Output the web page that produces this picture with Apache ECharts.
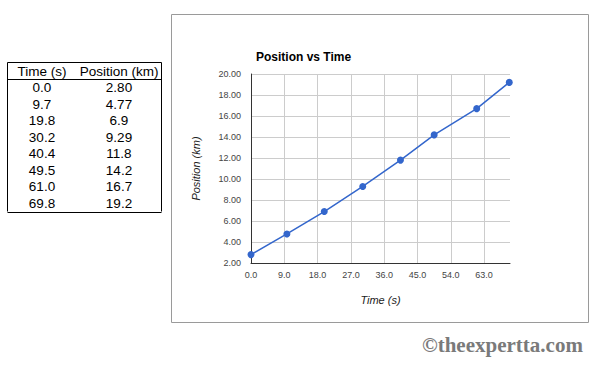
<!DOCTYPE html>
<html>
<head>
<meta charset="utf-8">
<script src="https://cdn.jsdelivr.net/npm/echarts@6/dist/echarts.min.js"></script>
<style>
html,body{margin:0;padding:0;background:#fff;}
#chart{width:600px;height:372px;}
</style>
</head>
<body>
<div id="chart"></div>
<script>
// ---- data ----
const timeText = ['0.0', '9.7', '19.8', '30.2', '40.4', '49.5', '61.0', '69.8'];
const positionText = ['2.80', '4.77', '6.9', '9.29', '11.8', '14.2', '16.7', '19.2'];
const times = [0.0, 9.7, 19.8, 30.2, 40.4, 49.5, 61.0, 69.8];
const positions = [2.80, 4.77, 6.9, 9.29, 11.8, 14.2, 16.7, 19.2];
const tableHeaders = ['Time (s)', 'Position (km)'];
const chartTitle = 'Position vs Time';
const xName = 'Time (s)';
const yName = 'Position (km)';
const watermark = '\u00A9theexpertta.com';

const FONT = '"Liberation Sans", Arial, sans-serif';

// ---- table as graphic elements ----
const tbl = { left: 7.5, right: 161.5, top: 62.5, headBottom: 79.5, rowH: 16.5, col1: 42, col2: 119 };
const graphics = [];
const tblBottom = tbl.headBottom + tbl.rowH * timeText.length;
function hline(y) {
  graphics.push({ type: 'line', shape: { x1: tbl.left, y1: y, x2: tbl.right, y2: y }, style: { stroke: '#000', lineWidth: 1 } });
}
function vline(x) {
  graphics.push({ type: 'line', shape: { x1: x, y1: tbl.top, x2: x, y2: tblBottom }, style: { stroke: '#000', lineWidth: 1 } });
}
hline(tbl.top); hline(tbl.headBottom); hline(Math.round(tblBottom) + 0.5);
vline(tbl.left); vline(tbl.right);
function cell(text, x, y) {
  graphics.push({ type: 'text', x: x, y: y, style: { text: text, fill: '#000', font: '13.5px ' + FONT, align: 'center', verticalAlign: 'middle' } });
}
cell(tableHeaders[0], tbl.col1, (tbl.top + tbl.headBottom) / 2);
cell(tableHeaders[1], tbl.col2, (tbl.top + tbl.headBottom) / 2);
for (let i = 0; i < timeText.length; i++) {
  const y = tbl.headBottom + tbl.rowH * (i + 0.5);
  cell(timeText[i], tbl.col1, y);
  cell(positionText[i], tbl.col2, y);
}
// chart panel border
graphics.push({ type: 'rect', shape: { x: 171.5, y: 14.5, width: 417, height: 308 }, style: { fill: 'none', stroke: '#9a9a9a', lineWidth: 1 }, z: -1 });
// watermark
graphics.push({ type: 'text', x: 422, y: 345, style: { text: watermark, fill: '#7a7a7a', font: 'bold 21px "Liberation Serif", "Times New Roman", serif', verticalAlign: 'middle' } });

const chart = echarts.init(document.getElementById('chart'), null, { renderer: 'svg' });
chart.setOption({
  animation: false,
  backgroundColor: '#fff',
  title: {
    text: chartTitle, left: 251, top: 46,
    textStyle: { fontFamily: FONT, fontSize: 12, fontWeight: 'bold', color: '#000' }
  },
  grid: { left: 251, right: 90, top: 74, bottom: 109 },
  xAxis: {
    type: 'value', min: 0, max: 70, interval: 9,
    name: xName, nameLocation: 'middle', nameGap: 31,
    nameTextStyle: { fontFamily: FONT, fontSize: 11, fontStyle: 'italic', color: '#222' },
    axisLine: { lineStyle: { color: '#333', width: 1 } },
    axisTick: { show: false },
    axisLabel: { fontFamily: FONT, fontSize: 9, color: '#444', margin: 7, showMaxLabel: false,
      formatter: v => v.toFixed(1) },
    splitLine: { show: true, showMaxLine: false, lineStyle: { color: '#cccccc', width: 1 } }
  },
  yAxis: {
    type: 'value', min: 2, max: 20, interval: 2,
    name: yName, nameLocation: 'middle', nameGap: 50,
    nameTextStyle: { fontFamily: FONT, fontSize: 11, fontStyle: 'italic', color: '#222' },
    axisLine: { show: true, lineStyle: { color: '#333', width: 1 } },
    axisTick: { show: false },
    axisLabel: { fontFamily: FONT, fontSize: 9, color: '#444', margin: 10,
      formatter: v => v.toFixed(2) },
    splitLine: { show: true, lineStyle: { color: '#cccccc', width: 1 } }
  },
  series: [{
    type: 'line',
    data: times.map((t, i) => [t, positions[i]]),
    symbol: 'circle', symbolSize: 7,
    lineStyle: { color: '#3366cc', width: 1.5 },
    itemStyle: { color: '#3366cc' },
    clip: false
  }],
  graphic: graphics
});
</script>
</body>
</html>
